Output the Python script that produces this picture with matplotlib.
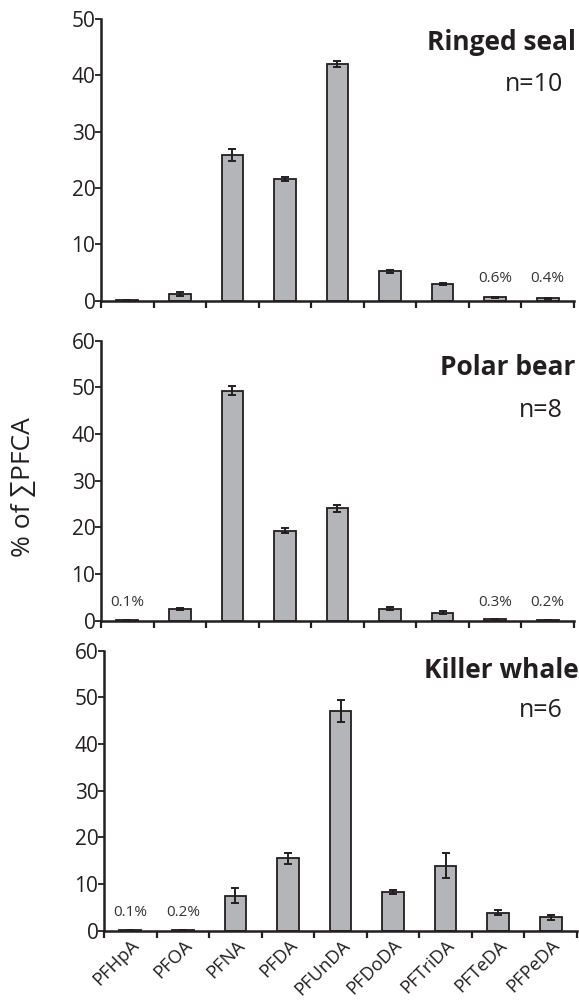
import numpy as np
import matplotlib
matplotlib.use('Agg')
import matplotlib.pyplot as plt

plt.rcParams['font.family'] = ['Open Sans', 'DejaVu Sans']

# PFCA names (x axis)
compounds = ['PFHpA', 'PFOA', 'PFNA', 'PFDA', 'PFUnDA', 'PFDoDA', 'PFTriDA', 'PFTeDA', 'PFPeDA']

# % of sum PFCA
seal_mean = [0.05, 1.2, 25.9, 21.6, 42.0, 5.2, 3.0, 0.6, 0.4]
seal_err = [0.0, 0.3, 1.1, 0.4, 0.6, 0.2, 0.2, 0.1, 0.1]
seal_pct = ['', '', '', '', '', '', '', '0.6%', '0.4%']

bear_mean = [0.1, 2.5, 49.3, 19.3, 24.1, 2.6, 1.7, 0.3, 0.2]
bear_err = [0.0, 0.2, 0.9, 0.6, 0.7, 0.3, 0.3, 0.05, 0.05]
bear_pct = ['0.1%', '', '', '', '', '', '', '0.3%', '0.2%']

whale_mean = [0.1, 0.2, 7.5, 15.5, 47.1, 8.3, 13.9, 3.9, 2.9]
whale_err = [0.0, 0.05, 1.6, 1.25, 2.3, 0.4, 2.7, 0.5, 0.5]
whale_pct = ['0.1%', '0.2%', '', '', '', '', '', '', '']

species = ['Ringed seal', 'Polar bear', 'Killer whale']
n_labels = ['n=10', 'n=8', 'n=6']
ymax = [50, 60, 60]

INK = '#231f20'
BARCOL = '#b4b5b8'

fig = plt.figure(figsize=(5.79, 10), dpi=100)
# axes boxes [left, bottom, width, height] in figure fractions
boxes = [[0.1744, 0.6993, 0.8170, 0.2817],
         [0.1744, 0.3793, 0.8170, 0.2800],
         [0.1796, 0.0693, 0.8170, 0.2800]]
title_y = [0.917, 0.904, 0.931]
n_x = [0.977, 0.977, 0.970]
n_y = [0.768, 0.752, 0.786]
data = [(seal_mean, seal_err, seal_pct),
        (bear_mean, bear_err, bear_pct),
        (whale_mean, whale_err, whale_pct)]

x = np.arange(len(compounds))
for i, (mean, err, pct) in enumerate(data):
    ax = fig.add_axes(boxes[i])
    ax.bar(x, mean, width=0.41, color=BARCOL, edgecolor=INK, linewidth=1.3, zorder=2)
    ax.errorbar(x, mean, yerr=err, fmt='none', ecolor=INK, elinewidth=1.4,
                capsize=3, capthick=1.4, zorder=3)
    for xi, s in zip(x, pct):
        if s:
            ax.text(xi, 4.0, s, ha='center', va='center', fontsize=11, color='#333333')
    ax.set_xlim(-0.5, len(compounds) - 0.5)
    ax.set_ylim(0, ymax[i])
    ax.set_yticks(np.arange(0, ymax[i] + 1, 10))
    ax.set_xticks(np.arange(-0.5, len(compounds), 1.0))
    ax.set_xticklabels([])
    ax.set_xticks(x, minor=True)
    if i == 2:
        ax.set_xticklabels(compounds, minor=True, rotation=45, ha='right',
                           va='top', rotation_mode='anchor', fontsize=13.2, color=INK)
    ax.tick_params(axis='x', which='minor', length=0, pad=4)
    ax.tick_params(axis='x', which='major', direction='out', length=5, width=1.6, color=INK)
    ax.tick_params(axis='y', direction='out', length=4, width=1.3, color=INK,
                   labelsize=15, labelcolor=INK, pad=0)
    for side in ['top', 'right']:
        ax.spines[side].set_visible(False)
    for side in ['left', 'bottom']:
        ax.spines[side].set_linewidth(1.8)
        ax.spines[side].set_color(INK)
    ax.text(1.003, title_y[i], species[i], transform=ax.transAxes, ha='right', va='center',
            fontsize=19, fontweight='bold', color=INK)
    ax.text(n_x[i], n_y[i], n_labels[i], transform=ax.transAxes, ha='right', va='center',
            fontsize=18, color=INK)

fig.text(0.040, 0.513, '% of ∑PFCA', rotation=90, ha='center', va='center',
         fontsize=19, color=INK)

fig.savefig('out.png', dpi=100)
